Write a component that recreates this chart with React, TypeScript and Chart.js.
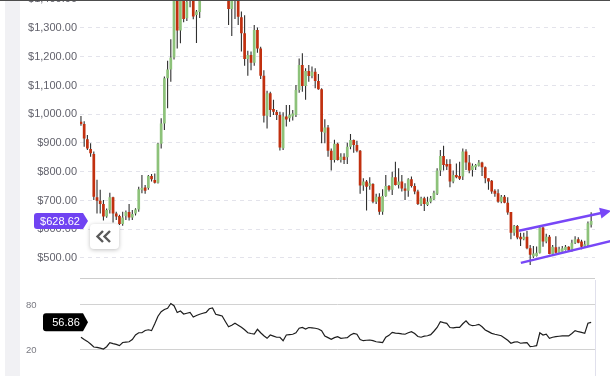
import React, { useEffect, useRef } from 'react';
import { Chart, registerables } from 'chart.js';

Chart.register(...registerables);

// ---- Data ----
const opens = [
  974, 966, 913, 879, 862, 711, 699, 688, 644, 667,
  711, 655, 646, 618, 646, 660, 641, 655, 669, 737,
  745, 743, 785, 771, 762, 897, 968, 1125, 1156, 1197,
  1430, 1291, 1440, 1334, 1420, 1450, 1345, 1356, 1420, 1465,
  1490, 1540, 1500, 1460, 1475, 1440, 1445, 1366, 1460, 1420,
  1337, 1282, 1192, 1206, 1179, 1293, 1229, 1134, 995, 1073,
  1018, 1008, 997, 882, 992, 986, 992, 997, 1084, 1171,
  1098, 1150, 1133, 1148, 1116, 1087, 936, 954, 873, 841,
  897, 841, 852, 850, 887, 910, 893, 873, 752, 766,
  750, 757, 696, 713, 661, 716, 750, 737, 781, 754,
  766, 742, 734, 774, 750, 731, 688, 708, 684, 696,
  704, 723, 804, 855, 827, 827, 766, 789, 785, 783,
  870, 832, 806, 816, 821, 832, 816, 777, 769, 734,
  725, 696, 713, 692, 660, 588, 611, 574, 565, 574,
  534, 505, 507, 518, 606, 557, 574, 514, 537, 518,
  522, 528, 539, 528, 553, 565, 557, 541, 544, 616,
];
const highs = [
  994, 976, 928, 899, 870, 772, 737, 702, 672, 727,
  713, 661, 650, 661, 665, 688, 667, 673, 748, 789,
  754, 789, 792, 794, 901, 986, 1131, 1186, 1261, 1440,
  1450, 1460, 1455, 1420, 1470, 1465, 1363, 1445, 1480, 1510,
  1560, 1555, 1520, 1490, 1485, 1470, 1450, 1440, 1475, 1430,
  1357, 1344, 1221, 1218, 1310, 1302, 1235, 1153, 1082, 1078,
  1050, 1015, 1009, 1007, 1032, 1032, 1015, 1102, 1194, 1212,
  1160, 1171, 1166, 1160, 1140, 1090, 983, 963, 881, 911,
  901, 864, 864, 901, 931, 912, 908, 876, 777, 771,
  781, 760, 723, 725, 739, 789, 754, 800, 835, 812,
  789, 760, 777, 783, 760, 737, 713, 713, 713, 716,
  734, 812, 876, 890, 843, 843, 804, 829, 835, 881,
  878, 858, 829, 827, 841, 835, 818, 777, 771, 739,
  739, 719, 719, 711, 660, 615, 615, 588, 588, 594,
  545, 542, 540, 612, 609, 584, 580, 545, 576, 539,
  542, 545, 541, 563, 576, 572, 563, 560, 627, 659,
];
const lows = [
  960, 887, 876, 852, 702, 655, 655, 630, 640, 655,
  623, 632, 615, 612, 632, 630, 632, 648, 661, 725,
  723, 737, 766, 759, 759, 881, 945, 1021, 1113, 1190,
  1229, 1247, 1320, 1324, 1372, 1330, 1248, 1335, 1405, 1440,
  1470, 1480, 1440, 1420, 1410, 1400, 1310, 1272, 1331, 1310,
  1218, 1169, 1134, 1153, 1169, 1214, 1123, 971, 950, 990,
  997, 980, 874, 876, 957, 974, 978, 990, 1075, 1078,
  1050, 1113, 1125, 1090, 1085, 899, 899, 852, 804, 832,
  839, 832, 827, 827, 878, 866, 868, 723, 734, 665,
  737, 690, 688, 650, 650, 713, 731, 719, 752, 742,
  731, 702, 713, 745, 722, 684, 681, 663, 681, 690,
  702, 719, 785, 804, 806, 746, 760, 777, 771, 771,
  806, 795, 783, 806, 818, 785, 760, 737, 723, 713,
  692, 690, 690, 650, 565, 577, 565, 542, 562, 530,
  476, 500, 505, 516, 539, 551, 513, 510, 516, 518,
  522, 526, 522, 522, 549, 551, 530, 539, 542, 606,
];
const closes = [
  966, 916, 881, 864, 713, 699, 688, 644, 667, 711,
  655, 644, 618, 641, 660, 641, 653, 669, 739, 743,
  734, 785, 774, 762, 897, 968, 1125, 1156, 1197, 1420,
  1291, 1440, 1331, 1391, 1445, 1340, 1357, 1420, 1465, 1490,
  1540, 1500, 1460, 1475, 1440, 1445, 1366, 1430, 1420, 1339,
  1282, 1192, 1206, 1179, 1293, 1229, 1134, 995, 1073, 1015,
  1009, 997, 884, 992, 982, 998, 1003, 1084, 1171, 1098,
  1150, 1133, 1148, 1116, 1087, 939, 954, 873, 841, 897,
  841, 852, 841, 887, 910, 893, 873, 752, 766, 748,
  760, 696, 713, 661, 716, 750, 737, 781, 754, 766,
  742, 734, 774, 750, 731, 688, 708, 688, 696, 708,
  727, 804, 855, 823, 818, 766, 789, 781, 776, 870,
  832, 804, 821, 823, 832, 816, 777, 766, 731, 723,
  696, 713, 692, 658, 588, 611, 571, 565, 574, 534,
  511, 516, 518, 606, 557, 574, 514, 539, 518, 530,
  534, 539, 526, 553, 565, 553, 539, 548, 621, 628.62,
];
const rsi = [
  37, 34, 31.5, 28, 24, 23.6, 22.5, 21.3, 24.4, 29.8,
  28.5, 27.5, 25.8, 30, 30.5, 31, 34, 40, 43, 43,
  46, 47, 45.8, 55, 65, 71, 74, 75.6, 82, 79,
  70, 72, 68, 69, 70, 64, 66, 67.6, 69, 70.2,
  75, 76, 67.6, 66.5, 65.3, 58, 51, 53, 55.6, 53,
  50.2, 47, 43, 42, 41.3, 47.6, 43, 39, 35.6, 40,
  38.5, 37, 37, 32.4, 40, 40.5, 41, 43, 49, 50,
  48, 50, 49.5, 49, 48, 45.8, 38.7, 36.5, 34.2, 36.5,
  37.8, 35.6, 36, 36.4, 40, 42.2, 41, 34, 32.4, 33,
  33.3, 32.4, 31, 30.5, 29.8, 37, 39.5, 43.6, 42.5, 42.2,
  41.5, 41, 43, 44.4, 42, 38, 37, 38.5, 39, 40.5,
  45, 50, 57.8, 56.5, 55.6, 50, 49.5, 50.2, 50.2, 55,
  59, 54, 52.4, 53, 54.2, 51, 46.7, 44.5, 42.2, 41,
  40, 39, 36, 33, 29, 30.5, 31, 29, 29.5, 29.8,
  24.4, 25, 25.8, 43, 40, 41, 35.6, 37, 37.8, 38.3,
  38.7, 38.7, 38.7, 42, 45.8, 44.4, 43.5, 42.2, 55.6, 56.86,
];
const priceTicks = [500, 600, 700, 800, 900, 1000, 1100, 1200, 1300, 1400];
const rsiTicks = [20, 80];
// trend channel endpoints: [candle index, price]
const trendUpperX = [136.5, 165.2];
const trendUpperY = [595, 664];
const trendLowerX = [137.1, 166];
const trendLowerY = [483, 561];

const GREEN = '#8dc27a';
const RED = '#c1300f';
const WICK = '#2f2f2f';
const TREND = '#7847f7';
const FONT = '"Liberation Sans", Arial, sans-serif';

export default function App() {
  const priceRef = useRef<HTMLCanvasElement>(null);
  const rsiRef = useRef<HTMLCanvasElement>(null);

  useEffect(() => {
    const xMin = -0.3;
    const xMax = 160.2;
    const last = closes.length - 1;

    const priceOverlay = {
      id: 'priceOverlay',
      afterDatasetsDraw(chart: any) {
        const { ctx, scales } = chart;
        const xs = scales.x;
        const ys = scales.y;
        ctx.save();
        ctx.strokeStyle = TREND;
        ctx.fillStyle = TREND;
        ctx.lineWidth = 2.5;
        const lines = [
          { X: trendUpperX, Y: trendUpperY, arrow: true },
          { X: trendLowerX, Y: trendLowerY, arrow: false },
        ];
        for (const l of lines) {
          const x0 = xs.getPixelForValue(l.X[0]);
          const y0 = ys.getPixelForValue(l.Y[0]);
          const x1 = xs.getPixelForValue(l.X[1]);
          const y1 = ys.getPixelForValue(l.Y[1]);
          const ang = Math.atan2(y1 - y0, x1 - x0);
          const len = l.arrow ? 10 : 0;
          ctx.beginPath();
          ctx.moveTo(x0, y0);
          ctx.lineTo(x1 - Math.cos(ang) * len, y1 - Math.sin(ang) * len);
          ctx.stroke();
          if (l.arrow) {
            const bx = x1 - Math.cos(ang) * 11;
            const by = y1 - Math.sin(ang) * 11;
            const nx = -Math.sin(ang) * 5.5;
            const ny = Math.cos(ang) * 5.5;
            ctx.beginPath();
            ctx.moveTo(x1, y1);
            ctx.lineTo(bx + nx, by + ny);
            ctx.lineTo(bx - nx, by - ny);
            ctx.closePath();
            ctx.fill();
          }
        }
        ctx.restore();
      },
      afterDraw(chart: any) {
        const { ctx, chartArea, scales } = chart;
        ctx.save();
        ctx.strokeStyle = '#cdcdcd';
        ctx.lineWidth = 1;
        ctx.beginPath();
        ctx.moveTo(chartArea.left, Math.round(chartArea.bottom) + 0.5);
        ctx.lineTo(chartArea.right, Math.round(chartArea.bottom) + 0.5);
        ctx.stroke();
        // last price tag
        const y = scales.y.getPixelForValue(closes[last]);
        const l = 34, r = 83, tip = 88, h = 8, rad = 3;
        ctx.fillStyle = '#7043f2';
        ctx.beginPath();
        ctx.moveTo(l + rad, y - h);
        ctx.lineTo(r, y - h);
        ctx.lineTo(tip, y);
        ctx.lineTo(r, y + h);
        ctx.lineTo(l + rad, y + h);
        ctx.quadraticCurveTo(l, y + h, l, y + h - rad);
        ctx.lineTo(l, y - h + rad);
        ctx.quadraticCurveTo(l, y - h, l + rad, y - h);
        ctx.closePath();
        ctx.fill();
        ctx.fillStyle = '#ffffff';
        ctx.font = '11px ' + FONT;
        ctx.textAlign = 'center';
        ctx.textBaseline = 'middle';
        ctx.fillText('$' + closes[last].toFixed(2), 60, y + 0.5);
        ctx.restore();
      },
    };

    const rsiOverlay = {
      id: 'rsiOverlay',
      afterDraw(chart: any) {
        const { ctx, chartArea, scales } = chart;
        ctx.save();
        ctx.strokeStyle = '#e0e0ec';
        ctx.lineWidth = 1;
        ctx.beginPath();
        ctx.moveTo(Math.round(chartArea.right) + 0.5, chartArea.top);
        ctx.lineTo(Math.round(chartArea.right) + 0.5, chartArea.bottom);
        ctx.stroke();
        const y = scales.y.getPixelForValue(rsi[last]);
        const l = 43, r = 83, tip = 88, h = 9, rad = 3;
        ctx.fillStyle = '#000000';
        ctx.beginPath();
        ctx.moveTo(l + rad, y - h);
        ctx.lineTo(r, y - h);
        ctx.lineTo(tip, y);
        ctx.lineTo(r, y + h);
        ctx.lineTo(l + rad, y + h);
        ctx.quadraticCurveTo(l, y + h, l, y + h - rad);
        ctx.lineTo(l, y - h + rad);
        ctx.quadraticCurveTo(l, y - h, l + rad, y - h);
        ctx.closePath();
        ctx.fill();
        ctx.fillStyle = '#ffffff';
        ctx.font = '11px ' + FONT;
        ctx.textAlign = 'center';
        ctx.textBaseline = 'middle';
        ctx.fillText(rsi[last].toFixed(2), 66, y + 0.5);
        ctx.restore();
      },
    };

    const priceChart = new Chart(priceRef.current as HTMLCanvasElement, {
      type: 'bar',
      data: {
        datasets: [
          {
            label: 'body',
            data: opens.map((o, i) => ({ x: i, y: [o, closes[i]] })) as any,
            backgroundColor: opens.map((o, i) => (closes[i] >= o ? GREEN : RED)),
            barThickness: 2.7,
            grouped: false,
            borderWidth: 0,
            inflateAmount: 0,
            order: 0,
          } as any,
          {
            label: 'wick',
            data: lows.map((lo, i) => ({ x: i, y: [lo, highs[i]] })) as any,
            backgroundColor: WICK,
            barThickness: 1.1,
            grouped: false,
            borderWidth: 0,
            inflateAmount: 0,
            order: 1,
          } as any,
        ],
      },
      options: {
        responsive: false,
        animation: false,
        events: [],
        layout: { padding: { top: 19.25, bottom: 21.9, left: 0, right: 15 } },
        plugins: { legend: { display: false }, tooltip: { enabled: false } },
        scales: {
          x: { type: 'linear', min: xMin, max: xMax, offset: false, display: false },
          y: {
            min: 430,
            max: 1400,
            afterBuildTicks: (s: any) => {
              s.ticks = priceTicks.map((v) => ({ value: v }));
            },
            afterFit: (s: any) => {
              s.width = 80;
            },
            grid: { color: '#e3e3eb', drawTicks: false, lineWidth: 1 },
            border: { display: false, dash: [4, 4] },
            ticks: {
              padding: 3,
              color: '#62626c',
              font: { family: FONT, size: 11 },
              callback: (v: any) =>
                '$' + Number(v).toLocaleString('en-US', { minimumFractionDigits: 2, maximumFractionDigits: 2 }),
            },
          },
        },
      } as any,
      plugins: [priceOverlay],
    });

    const rsiChart = new Chart(rsiRef.current as HTMLCanvasElement, {
      type: 'line',
      data: {
        datasets: [
          {
            data: rsi.map((v, i) => ({ x: i, y: v })),
            borderColor: '#1e1e1e',
            borderWidth: 1.2,
            pointRadius: 0,
            tension: 0,
            fill: false,
          },
        ],
      },
      options: {
        responsive: false,
        animation: false,
        events: [],
        layout: { padding: { top: 20, bottom: 20, left: 26, right: 15 } },
        plugins: { legend: { display: false }, tooltip: { enabled: false } },
        scales: {
          x: { type: 'linear', min: xMin, max: xMax, offset: false, display: false },
          y: {
            min: -14.67,
            max: 113.33,
            afterBuildTicks: (s: any) => {
              s.ticks = rsiTicks.map((v) => ({ value: v }));
            },
            afterFit: (s: any) => {
              s.width = 54;
            },
            grid: { color: '#d2d2d2', drawTicks: false, lineWidth: 1 },
            border: { display: false },
            ticks: { crossAlign: 'far', padding: 0, color: '#7a7a82', font: { family: FONT, size: 9.5 } },
          },
        },
      } as any,
      plugins: [rsiOverlay],
    });

    return () => {
      priceChart.destroy();
      rsiChart.destroy();
    };
  }, []);

  return (
    <div
      style={{
        position: 'fixed',
        left: 0,
        top: 0,
        width: 610,
        height: 376,
        overflow: 'hidden',
        background: '#ffffff',
      }}
    >
      <div style={{ position: 'absolute', left: 5, top: 0, width: 15, height: 376, background: '#f1f1f4' }} />
      <canvas
        ref={priceRef}
        width={610}
        height={320}
        style={{ position: 'absolute', left: 0, top: -20, width: 610, height: 320 }}
      />
      <canvas
        ref={rsiRef}
        width={610}
        height={136}
        style={{ position: 'absolute', left: 0, top: 260, width: 610, height: 136 }}
      />
      <div style={{ position: 'absolute', left: 0, top: 0, width: 610, height: 1, background: '#4d4d4d' }} />
      <div
        style={{
          position: 'absolute',
          left: 90,
          top: 224,
          width: 29,
          height: 25,
          background: '#ffffff',
          borderRadius: 4,
          boxShadow: '0 1px 4px rgba(0,0,0,0.25)',
        }}
      >
        <svg width={29} height={25} style={{ display: 'block' }}>
          <polyline points="13,7 7.5,12.5 13,18" fill="none" stroke="#5a5a5a" strokeWidth={2.4} />
          <polyline points="20,7 14.5,12.5 20,18" fill="none" stroke="#5a5a5a" strokeWidth={2.4} />
        </svg>
      </div>
    </div>
  );
}
